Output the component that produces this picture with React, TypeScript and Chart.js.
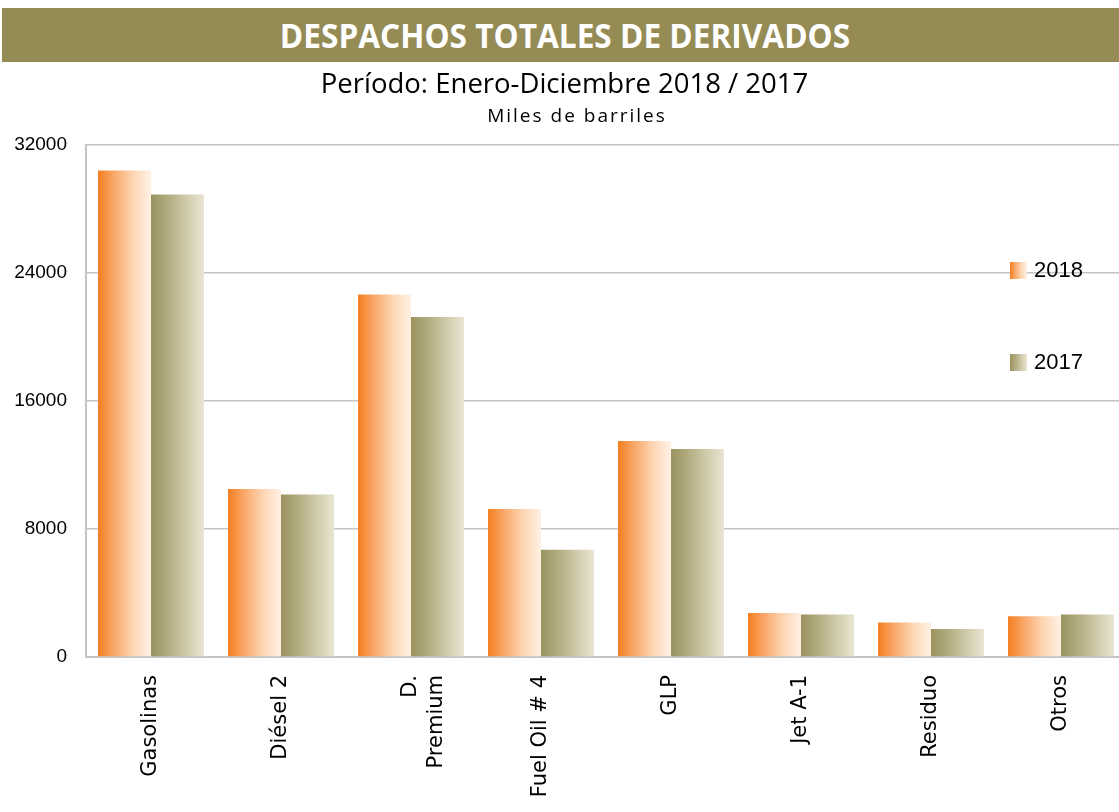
import React, { useEffect, useRef } from "react";
import { Chart, registerables } from "chart.js";

Chart.register(...registerables);

const categories: (string | string[])[] = [
  "Gasolinas",
  "Diésel 2",
  ["D.", "Premium"],
  "Fuel Oil # 4",
  "GLP",
  "Jet A-1",
  "Residuo",
  "Otros",
];
const seriesNames = ["2018", "2017"];
const values2018 = [30400, 10500, 22650, 9250, 13500, 2750, 2150, 2550];
const values2017 = [28900, 10150, 21250, 6700, 13000, 2650, 1750, 2650];
const yMin = 0;
const yMax = 32000;
const yStep = 8000;

const gradientStops = [
  [
    [0, "#F47E1E"],
    [0.3, "#F9A769"],
    [0.65, "#FDD5B2"],
    [1, "#FFF1E4"],
  ],
  [
    [0, "#9A935F"],
    [0.35, "#B4AE83"],
    [0.7, "#D2CDAE"],
    [1, "#E9E5D3"],
  ],
] as [number, string][][];

function makeGradient(ctx: CanvasRenderingContext2D, x0: number, x1: number, di: number) {
  const g = ctx.createLinearGradient(x0, 0, x1, 0);
  gradientStops[di].forEach(([o, c]) => g.addColorStop(o, c));
  return g;
}

const gradientPlugin = {
  id: "barGradient",
  beforeDatasetsDraw(chart: any) {
    const ctx = chart.ctx;
    chart.data.datasets.forEach((_: any, di: number) => {
      const meta = chart.getDatasetMeta(di);
      meta.data.forEach((el: any) => {
        const { x, width } = el.getProps(["x", "width"], true);
        el.options.backgroundColor = makeGradient(ctx, x - width / 2, x + width / 2, di);
      });
    });
  },
};

const legendPlugin = {
  id: "customLegend",
  afterDraw(chart: any) {
    const ctx = chart.ctx;
    const area = chart.chartArea;
    const bx = area.right - 116;
    const ys = [area.top + 125, area.top + 217];
    ctx.save();
    seriesNames.forEach((name, i) => {
      const y = ys[i];
      ctx.fillStyle = makeGradient(ctx, bx, bx + 17, i);
      ctx.fillRect(bx, y - 8, 17, 17);
      ctx.fillStyle = "#000";
      ctx.font = "22px 'Liberation Sans', 'Open Sans', sans-serif";
      ctx.textBaseline = "middle";
      ctx.textAlign = "left";
      ctx.fillText(name, bx + 24, y + 1);
    });
    ctx.restore();
  },
};

export default function App() {
  const canvasRef = useRef<HTMLCanvasElement | null>(null);

  useEffect(() => {
    const canvas = canvasRef.current;
    if (!canvas) return;
    const chart = new Chart(canvas, {
      type: "bar",
      data: {
        labels: categories as any,
        datasets: [
          {
            label: seriesNames[0],
            data: values2018,
            backgroundColor: () => "#F58220",
            borderWidth: 0,
            categoryPercentage: 0.815,
            barPercentage: 1,
          },
          {
            label: seriesNames[1],
            data: values2017,
            backgroundColor: () => "#A59E6E",
            borderWidth: 0,
            categoryPercentage: 0.815,
            barPercentage: 1,
          },
        ],
      },
      options: {
        responsive: false,
        animation: false,
        devicePixelRatio: 1,
        layout: { padding: { top: 145, left: 0, right: 14, bottom: 0 } },
        plugins: {
          legend: { display: false },
          tooltip: { enabled: false },
          title: { display: false },
        },
        scales: {
          x: {
            grid: { display: false, drawTicks: false },
            border: { display: true, color: "#C4C4C4", width: 2 },
            ticks: {
              color: "#000",
              font: { family: "'DejaVu Sans', sans-serif", size: 21 },
              minRotation: 90,
              maxRotation: 90,
              padding: 18,
              autoSkip: false,
            },
            afterFit(scale: any) {
              scale.height = 155;
            },
          },
          y: {
            min: yMin,
            max: yMax,
            grid: { color: "#C4C4C4", lineWidth: 1.5, drawTicks: false },
            border: { display: true, color: "#C4C4C4", width: 2 },
            ticks: {
              stepSize: yStep,
              color: "#000",
              font: { family: "'Liberation Sans', 'Open Sans', sans-serif", size: 19 },
              padding: 19,
              callback: (v: any) => String(v),
            },
            afterFit(scale: any) {
              scale.width = 86;
            },
          },
        },
      },
      plugins: [gradientPlugin, legendPlugin],
    });
    return () => chart.destroy();
  }, []);

  return (
    <div
      style={{
        position: "fixed",
        left: 0,
        top: 0,
        width: 1119,
        height: 812,
        overflow: "hidden",
        background: "#fff",
      }}
    >
      <canvas
        ref={canvasRef}
        width={1140}
        height={812}
        style={{ position: "absolute", left: 0, top: 0, width: 1140, height: 812 }}
      />
      <div
        style={{
          position: "absolute",
          left: 2,
          top: 8,
          width: 1117,
          height: 54,
          background: "#958B55",
        }}
      />
      <div
        style={{
          position: "absolute",
          left: 0,
          top: 8,
          width: 1130,
          height: 54,
          color: "#fff",
          fontFamily: "'Open Sans', sans-serif",
          fontWeight: 700,
          fontSize: 34,
          lineHeight: "54px",
          textAlign: "center",
          transform: "scaleX(0.93)",
          transformOrigin: "565px 27px",
        }}
      >
        DESPACHOS TOTALES DE DERIVADOS
      </div>
      <div
        style={{
          position: "absolute",
          left: 0,
          top: 64,
          width: 1119,
          textAlign: "center",
          paddingLeft: 10,
          boxSizing: "border-box",
          fontFamily: "'Open Sans', sans-serif",
          fontSize: 27.5,
          lineHeight: "38px",
          color: "#000",
        }}
      >
        Período: Enero-Diciembre 2018 / 2017
      </div>
      <div
        style={{
          position: "absolute",
          left: 0,
          top: 101,
          width: 1119,
          textAlign: "center",
          paddingLeft: 35,
          boxSizing: "border-box",
          fontFamily: "'Open Sans', sans-serif",
          fontSize: 19,
          letterSpacing: 2,
          lineHeight: "28px",
          color: "#000",
        }}
      >
        Miles de barriles
      </div>
    </div>
  );
}
